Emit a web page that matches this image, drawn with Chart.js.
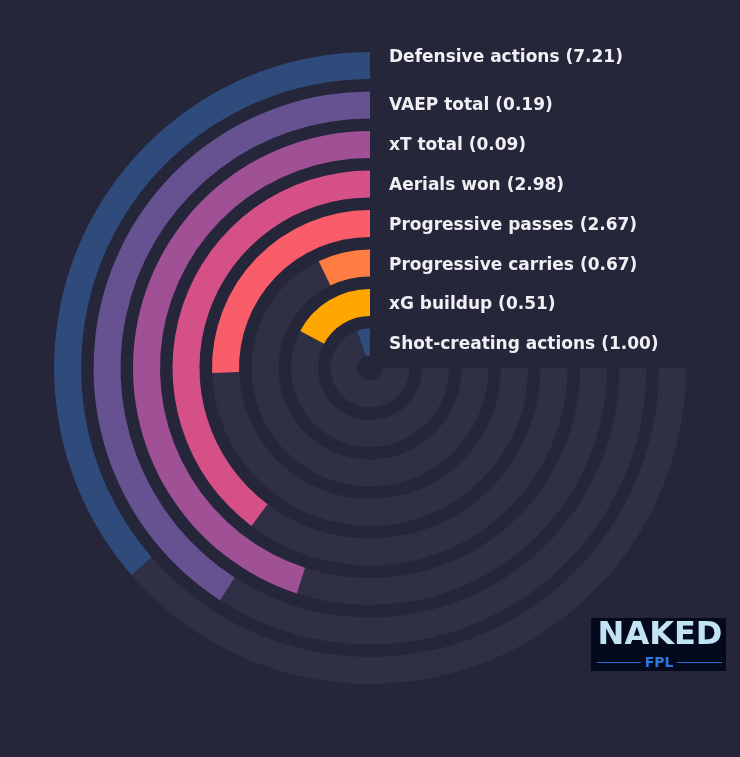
<!DOCTYPE html>
<html><head><meta charset="utf-8">
<script src="https://cdn.jsdelivr.net/npm/chart.js@4.4.0/dist/chart.umd.min.js"></script>
<style>html,body{margin:0;padding:0;background:#252639;}canvas{display:block}</style>
</head><body>
<canvas id="c" width="740" height="757"></canvas>
<script>
// ---- data (outer ring -> inner ring) ----
const metrics = ["Defensive actions","VAEP total","xT total","Aerials won","Progressive passes","Progressive carries","xG buildup","Shot-creating actions"];
const values = [7.21, 0.19, 0.09, 2.98, 2.67, 0.67, 0.51, 1.00];
const percentiles = [48.5, 54.5, 60, 53, 34, 9.5, 23, 7];
const colors = ["#2f4b7c","#665191","#a05195","#d45087","#f95d6a","#ff7c43","#ffa600","#2f4b7c"];

const BG = "#252639", TRACK = "#2f3045";
const labelShift = [-8, 0.5, 1, 1.5, 2.5, 2.5, 2.5, 2.5];

const datasets = [];
metrics.forEach((m, i) => {
  if (i > 0) datasets.push({label: "gap", data: [1], backgroundColor: ["rgba(0,0,0,0)"], borderWidth: 0, weight: 12.5});
  datasets.push({label: m, data: [100 - percentiles[i], percentiles[i]], backgroundColor: [TRACK, colors[i]], borderWidth: 0, weight: 27});
});

const bgPlugin = {
  id: "bg",
  beforeDraw(chart) {
    const ctx = chart.ctx;
    ctx.save(); ctx.fillStyle = BG; ctx.fillRect(0, 0, chart.width, chart.height); ctx.restore();
  }
};

const labelPlugin = {
  id: "labels",
  afterDraw(chart) {
    const ctx = chart.ctx;
    ctx.save();
    ctx.font = "bold 17px 'DejaVu Sans'";
    ctx.fillStyle = "#f0f0f4";
    ctx.textBaseline = "middle";
    ctx.textAlign = "left";
    let k = 0;
    chart.data.datasets.forEach((ds, di) => {
      if (ds.label === "gap") return;
      const arc = chart.getDatasetMeta(di).data[1];
      const yc = arc.y - (arc.innerRadius + arc.outerRadius) / 2 + labelShift[k];
      ctx.fillText(metrics[k] + " (" + values[k].toFixed(2) + ")", arc.x + 19, yc);
      k++;
    });
    // logo
    ctx.fillStyle = "#040a1c";
    ctx.fillRect(591, 618, 135, 53);
    ctx.fillStyle = "#c2e3f4";
    ctx.font = "bold 32px 'DejaVu Sans'";
    ctx.textAlign = "center";
    ctx.textBaseline = "alphabetic";
    ctx.fillText("NAKED", 660, 644);
    ctx.fillStyle = "#2a78de";
    ctx.font = "bold 14px 'DejaVu Sans'";
    ctx.fillText("FPL", 659, 667);
    ctx.strokeStyle = "#2a6fd0";
    ctx.lineWidth = 1;
    ctx.beginPath();
    ctx.moveTo(597, 662.5); ctx.lineTo(641, 662.5);
    ctx.moveTo(677, 662.5); ctx.lineTo(722, 662.5);
    ctx.stroke();
    ctx.restore();
  }
};

new Chart(document.getElementById("c"), {
  type: "doughnut",
  data: { labels: ["track", "value"], datasets },
  options: {
    responsive: false,
    animation: false,
    events: [],
    rotation: 90,
    circumference: 270,
    cutout: 12.5,
    layout: { padding: { left: 54, right: 54, top: 52, bottom: 73 } },
    plugins: { legend: { display: false }, tooltip: { enabled: false } }
  },
  plugins: [bgPlugin, labelPlugin]
});
</script>
</body></html>
